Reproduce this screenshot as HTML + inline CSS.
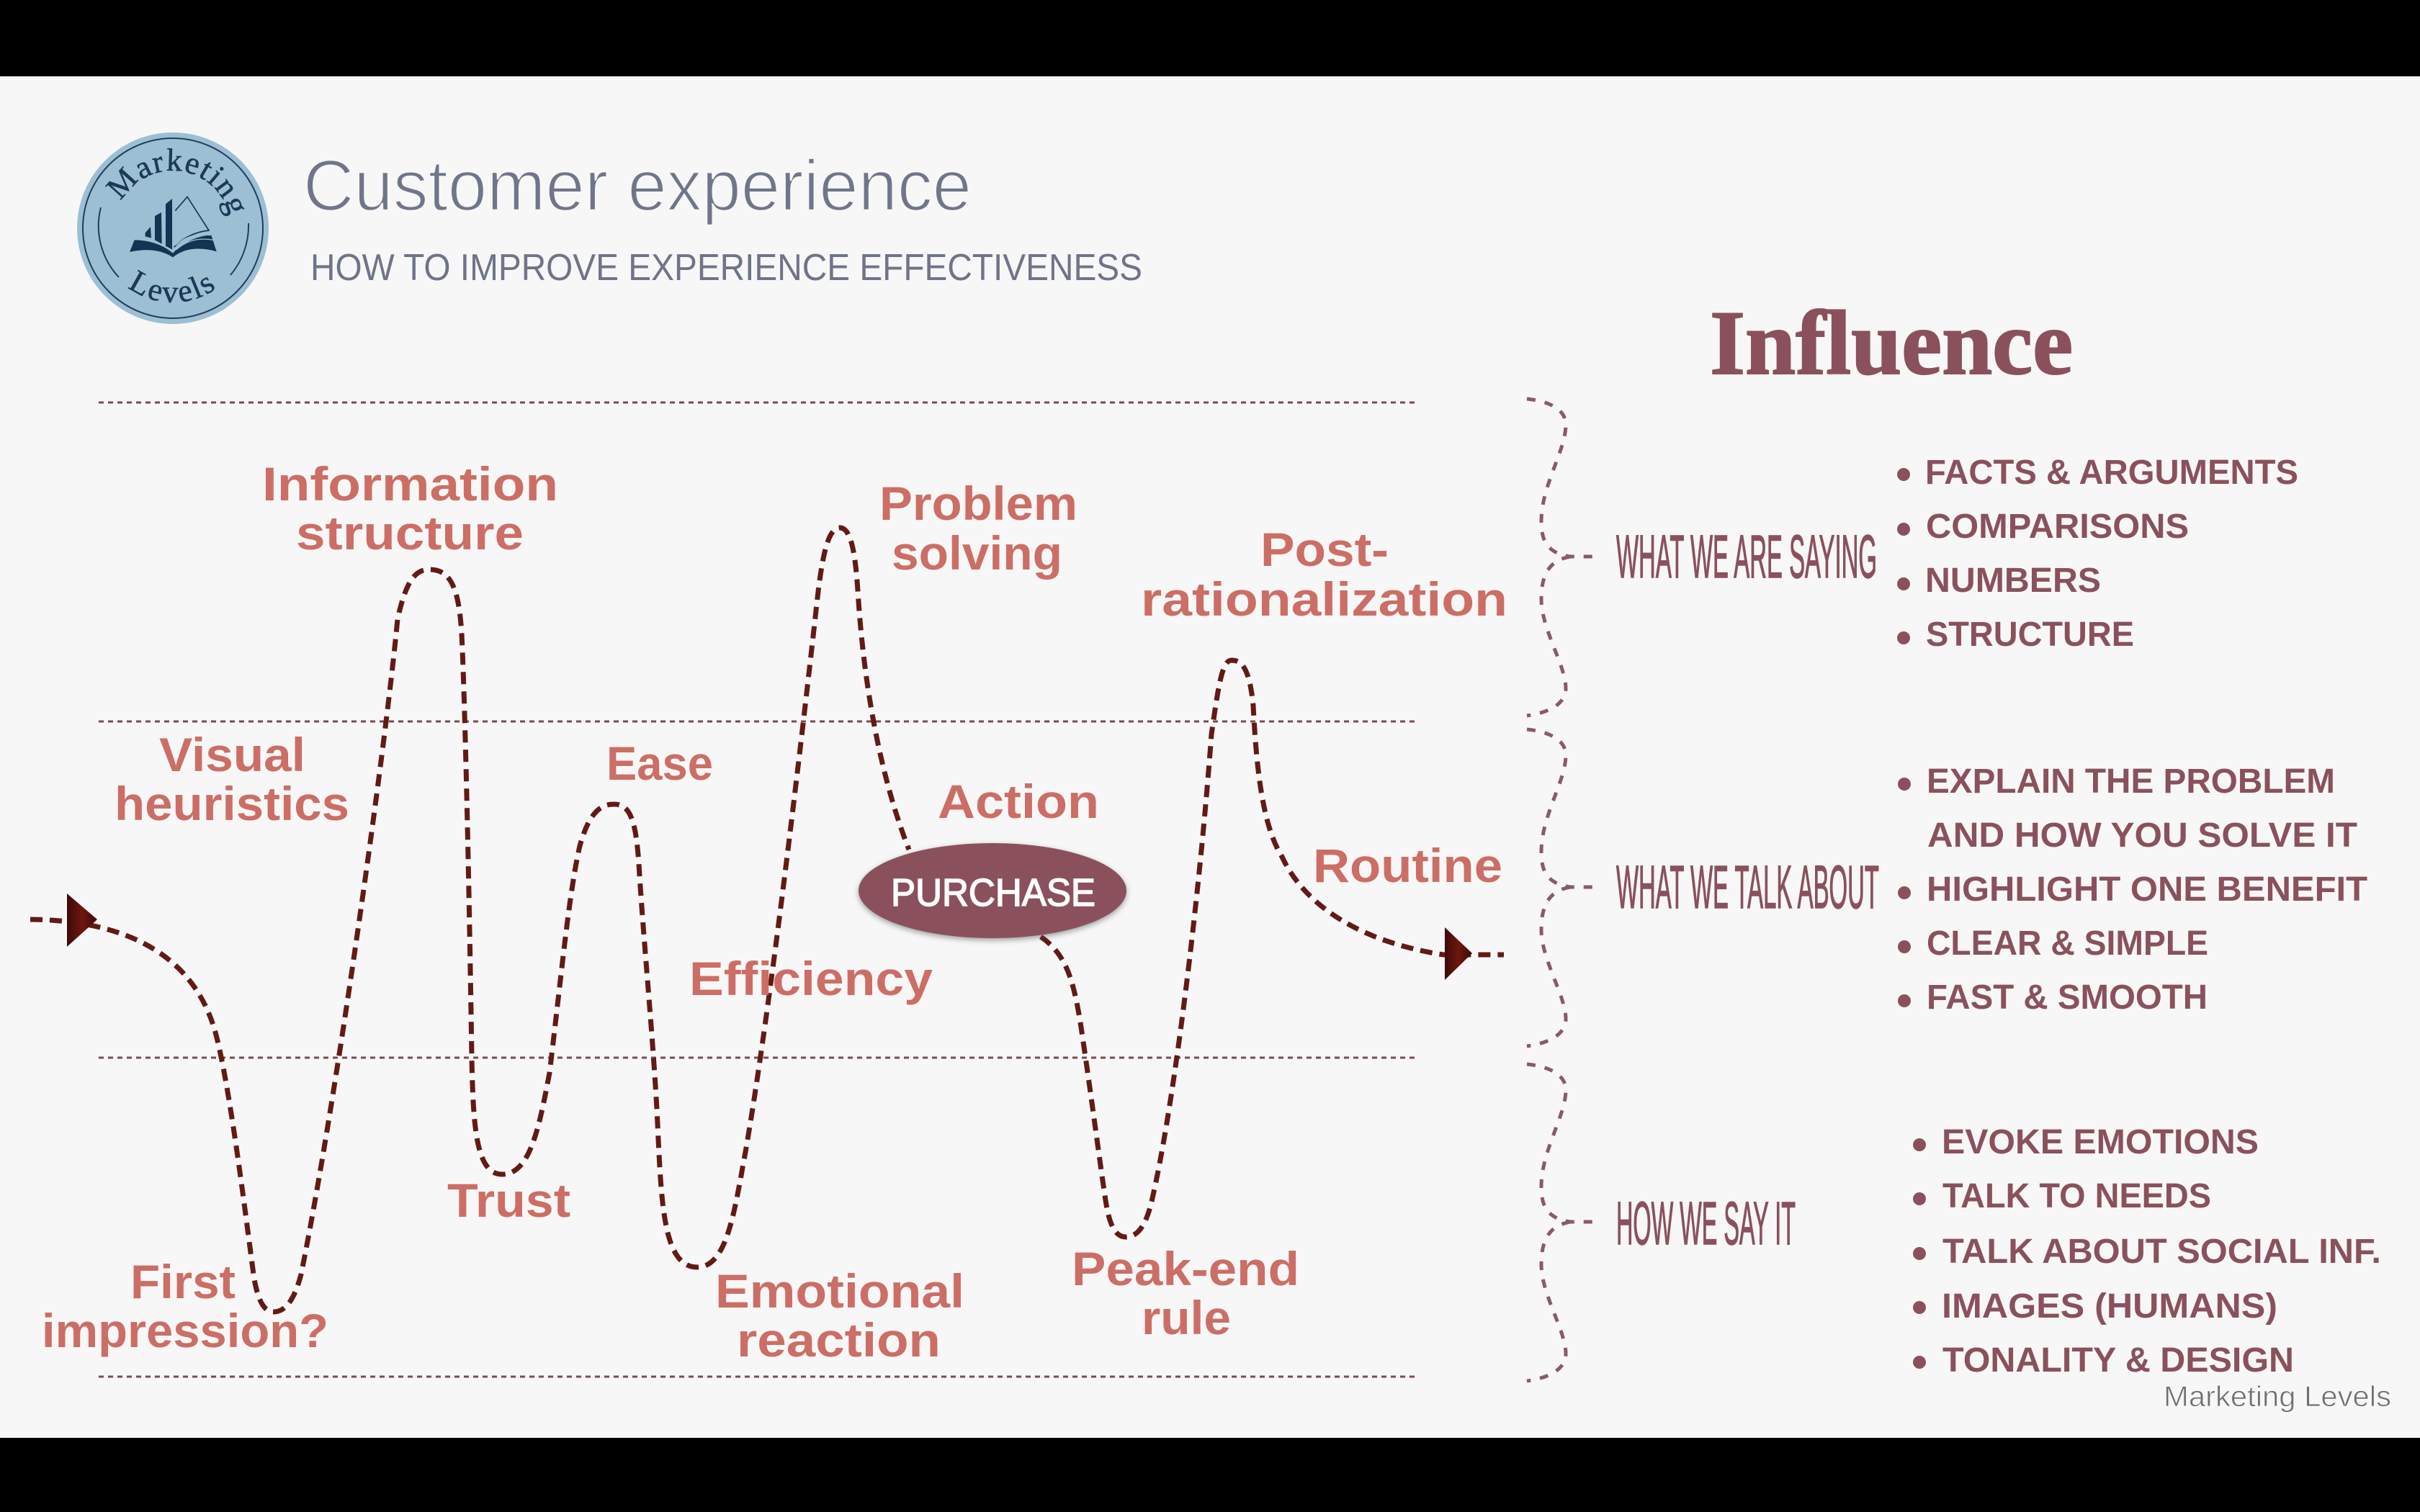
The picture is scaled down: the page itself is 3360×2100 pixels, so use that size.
<!DOCTYPE html>
<html><head><meta charset="utf-8">
<style>
html,body{margin:0;padding:0;background:#000;width:3360px;height:2100px;overflow:hidden}
svg{display:block}
text{font-family:"Liberation Sans",sans-serif}
.l{font-size:66px;font-weight:700;fill:#cc6e65}
.b{font-size:48px;font-weight:700;fill:#8a515c}
.h{font-size:84px;fill:#8a515c;stroke:#8a515c;stroke-width:1.5px}
</style></head><body>
<svg width="3360" height="2100" viewBox="0 0 3360 2100" xmlns="http://www.w3.org/2000/svg">
<defs>
<filter id="sh" x="-20%" y="-30%" width="140%" height="160%"><feGaussianBlur stdDeviation="4"/></filter>
<linearGradient id="ar" x1="0" y1="0" x2="1" y2="0"><stop offset="0" stop-color="#3e0a08"/><stop offset=".5" stop-color="#6d160f"/><stop offset="1" stop-color="#3e0a08"/></linearGradient>
<path id="arcTop" d="M160,317 A80,80 0 0 1 320,317"/>
<path id="arcBot" d="M137,317 A103,103 0 0 0 343,317"/>
<path id="brace" d="M0,0 C30,3 54,14 54,36 C54,72 20,120 20,170 C20,200 30,214 60,219 L91,219 M60,219 C34,224 20,240 20,278 C20,320 54,370 54,402 C54,424 30,436 0,440"/>
</defs>
<rect width="3360" height="2100" fill="#000"/>
<rect x="0" y="106" width="3360" height="1891" fill="#f7f7f7"/>

<!-- logo -->
<circle cx="240" cy="317" r="133" fill="#9dbfd3"/>
<circle cx="240" cy="317" r="125" fill="none" stroke="#1e3f5c" stroke-width="2"/>
<path d="M140,288 A104,104 0 0 0 165,385 M345,310 A106,106 0 0 1 320,382" fill="none" stroke="#1e3f5c" stroke-width="2"/>
<g transform="rotate(8 240 317)"><text font-size="44" fill="#1b3a58" stroke="#1b3a58" stroke-width=".6" style="font-family:'Liberation Serif',serif;letter-spacing:1.5px" text-anchor="middle"><textPath href="#arcTop" startOffset="50%">Marketing</textPath></text></g>
<text font-size="44" fill="#1b3a58" stroke="#1b3a58" stroke-width=".6" style="font-family:'Liberation Serif',serif;letter-spacing:3px" text-anchor="middle"><textPath href="#arcBot" startOffset="50%">Levels</textPath></text>
<g transform="translate(90,170) scale(.33333)" fill="#123553">
<path d="M270,540 L290,490 C350,490 410,510 450,545 L450,562 C400,530 340,525 270,540Z"/>
<path d="M450,562 C500,520 570,520 632,538 L610,470 C560,470 490,500 450,545Z"/>
<polygon points="335,460 357,435 360,482 335,475"/>
<polygon points="375,390 402,375 404,506 375,490"/>
<polygon points="420,340 447,318 447,530 420,515"/>
<path d="M460,368 L510,310 L600,450 C550,455 490,480 455,520" fill="none" stroke="#123553" stroke-width="5"/>
<path d="M530,322 L612,460 M465,530 C510,490 560,480 618,490 M460,512 C510,470 560,462 606,470" fill="none" stroke="#9dbfd3" stroke-width="4"/>
</g>

<!-- header -->
<text x="421" y="292" font-size="100" fill="#70758a" stroke="#f7f7f7" stroke-width="2.4" textLength="928" lengthAdjust="spacingAndGlyphs">Customer experience</text>
<text x="431" y="389" font-size="52" fill="#6f7488" textLength="1155" lengthAdjust="spacingAndGlyphs">HOW TO IMPROVE EXPERIENCE EFFECTIVENESS</text>
<text x="2374" y="519" font-size="127" font-weight="700" fill="#8a515c" stroke="#8a515c" stroke-width="2" style="font-family:'Liberation Serif',serif" textLength="504" lengthAdjust="spacingAndGlyphs">Influence</text>

<!-- horizontal dotted lines -->
<g stroke="#7a4a52" stroke-width="3" stroke-dasharray="7 6" fill="none">
<path d="M137,559H1964"/><path d="M137,1002H1964"/><path d="M137,1469H1964"/><path d="M137,1912H1964"/>
</g>

<!-- main curve -->
<g fill="none" stroke="#631a14" stroke-width="7" stroke-dasharray="17 10">
<path d="M42,1277 C150,1278 262,1310 298,1430 C318,1500 340,1680 352,1770 C358,1810 368,1822 380,1822 C395,1822 408,1808 418,1770 C465,1540 535,1040 552,860 C565,800 580,791 596,791 C625,791 637,815 641,880 C645,960 651,1200 655,1470 C657,1560 660,1631 697,1631 C735,1631 748,1570 763,1490 C780,1350 790,1240 805,1175 C820,1120 840,1117 853,1117 C875,1117 883,1140 887,1200 C893,1300 905,1420 912,1540 C918,1660 918,1760 968,1760 C1010,1760 1020,1680 1035,1600 C1070,1400 1115,1010 1135,830 C1143,760 1152,733 1166,733 C1180,733 1187,760 1191,820 C1197,920 1215,1060 1262,1180"/>
<path d="M1445,1301 C1480,1325 1490,1360 1500,1420 C1515,1520 1525,1600 1535,1667 C1540,1700 1548,1718 1563,1718 C1585,1718 1595,1690 1602,1655 C1630,1530 1665,1250 1682,1020 C1692,950 1697,917 1710,917 C1725,917 1735,930 1740,980 C1745,1080 1755,1150 1780,1190 C1815,1265 1900,1310 2004,1326 L2088,1326"/>
</g>
<polygon points="93,1241 93,1315 135,1277" fill="url(#ar)"/>
<polygon points="2006,1288 2006,1361 2044,1324" fill="url(#ar)"/>

<!-- purchase -->
<ellipse cx="1378" cy="1240" rx="186" ry="66" fill="#555" opacity=".55" filter="url(#sh)"/>
<ellipse cx="1378" cy="1237" rx="186" ry="66" fill="#8a515c"/>
<text x="1237" y="1258" font-size="54" fill="#fff" stroke="#fff" stroke-width="1.5" textLength="284" lengthAdjust="spacingAndGlyphs">PURCHASE</text>

<!-- labels -->
<text class="l" x="364" y="695" textLength="411" lengthAdjust="spacingAndGlyphs">Information</text>
<text class="l" x="411" y="763" textLength="316" lengthAdjust="spacingAndGlyphs">structure</text>
<text class="l" x="1221" y="722" textLength="275" lengthAdjust="spacingAndGlyphs">Problem</text>
<text class="l" x="1238" y="791" textLength="237" lengthAdjust="spacingAndGlyphs">solving</text>
<text class="l" x="1750" y="786" textLength="178" lengthAdjust="spacingAndGlyphs">Post-</text>
<text class="l" x="1584" y="855" textLength="509" lengthAdjust="spacingAndGlyphs">rationalization</text>
<text class="l" x="221" y="1071" textLength="203" lengthAdjust="spacingAndGlyphs">Visual</text>
<text class="l" x="159" y="1139" textLength="326" lengthAdjust="spacingAndGlyphs">heuristics</text>
<text class="l" x="842" y="1083" textLength="148" lengthAdjust="spacingAndGlyphs">Ease</text>
<text class="l" x="1302" y="1136" textLength="224" lengthAdjust="spacingAndGlyphs">Action</text>
<text class="l" x="1823" y="1225" textLength="263" lengthAdjust="spacingAndGlyphs">Routine</text>
<text class="l" x="957" y="1382" textLength="338" lengthAdjust="spacingAndGlyphs">Efficiency</text>
<text class="l" x="621" y="1690" textLength="171" lengthAdjust="spacingAndGlyphs">Trust</text>
<text class="l" x="181" y="1803" textLength="146" lengthAdjust="spacingAndGlyphs">First</text>
<text class="l" x="58" y="1871" textLength="398" lengthAdjust="spacingAndGlyphs">impression?</text>
<text class="l" x="993" y="1816" textLength="346" lengthAdjust="spacingAndGlyphs">Emotional</text>
<text class="l" x="1023" y="1884" textLength="283" lengthAdjust="spacingAndGlyphs">reaction</text>
<text class="l" x="1488" y="1785" textLength="316" lengthAdjust="spacingAndGlyphs">Peak-end</text>
<text class="l" x="1585" y="1853" textLength="124" lengthAdjust="spacingAndGlyphs">rule</text>

<!-- braces -->
<g fill="none" stroke="#8a5a68" stroke-width="5" stroke-dasharray="12 13">
<use href="#brace" transform="translate(2120,554)"/>
<use href="#brace" transform="translate(2120,1013)"/>
<use href="#brace" transform="translate(2120,1478)"/>
</g>

<!-- condensed headings -->
<text class="h" x="2244" y="802" textLength="362" lengthAdjust="spacingAndGlyphs">WHAT WE ARE SAYING</text>
<text class="h" x="2244" y="1261" textLength="365" lengthAdjust="spacingAndGlyphs">WHAT WE TALK ABOUT</text>
<text class="h" x="2244" y="1728" textLength="249" lengthAdjust="spacingAndGlyphs">HOW WE SAY IT</text>

<!-- lists -->
<g fill="#8a515c">
<circle cx="2643" cy="659" r="9"/><circle cx="2643" cy="735" r="9"/><circle cx="2643" cy="811" r="9"/><circle cx="2643" cy="886" r="9"/>
<circle cx="2644" cy="1089" r="9"/><circle cx="2644" cy="1240" r="9"/><circle cx="2644" cy="1315" r="9"/><circle cx="2644" cy="1390" r="9"/>
<circle cx="2665" cy="1590" r="9"/><circle cx="2665" cy="1665" r="9"/><circle cx="2665" cy="1741" r="9"/><circle cx="2665" cy="1816" r="9"/><circle cx="2665" cy="1892" r="9"/>
</g>
<text class="b" x="2673" y="672" textLength="518" lengthAdjust="spacingAndGlyphs">FACTS &amp; ARGUMENTS</text>
<text class="b" x="2674" y="747" textLength="365" lengthAdjust="spacingAndGlyphs">COMPARISONS</text>
<text class="b" x="2673" y="822" textLength="244" lengthAdjust="spacingAndGlyphs">NUMBERS</text>
<text class="b" x="2674" y="897" textLength="289" lengthAdjust="spacingAndGlyphs">STRUCTURE</text>
<text class="b" x="2675" y="1101" textLength="567" lengthAdjust="spacingAndGlyphs">EXPLAIN THE PROBLEM</text>
<text class="b" x="2676" y="1176" textLength="597" lengthAdjust="spacingAndGlyphs">AND HOW YOU SOLVE IT</text>
<text class="b" x="2675" y="1251" textLength="612" lengthAdjust="spacingAndGlyphs">HIGHLIGHT ONE BENEFIT</text>
<text class="b" x="2675" y="1326" textLength="391" lengthAdjust="spacingAndGlyphs">CLEAR &amp; SIMPLE</text>
<text class="b" x="2675" y="1401" textLength="390" lengthAdjust="spacingAndGlyphs">FAST &amp; SMOOTH</text>
<text class="b" x="2696" y="1602" textLength="440" lengthAdjust="spacingAndGlyphs">EVOKE EMOTIONS</text>
<text class="b" x="2697" y="1677" textLength="373" lengthAdjust="spacingAndGlyphs">TALK TO NEEDS</text>
<text class="b" x="2697" y="1754" textLength="609" lengthAdjust="spacingAndGlyphs">TALK ABOUT SOCIAL INF.</text>
<text class="b" x="2696" y="1830" textLength="466" lengthAdjust="spacingAndGlyphs">IMAGES (HUMANS)</text>
<text class="b" x="2697" y="1905" textLength="488" lengthAdjust="spacingAndGlyphs">TONALITY &amp; DESIGN</text>

<text x="3004" y="1953" font-size="40" fill="#6f6f6f" stroke="#f7f7f7" stroke-width=".8" textLength="316" lengthAdjust="spacingAndGlyphs">Marketing Levels</text>
</svg>
</body></html>
